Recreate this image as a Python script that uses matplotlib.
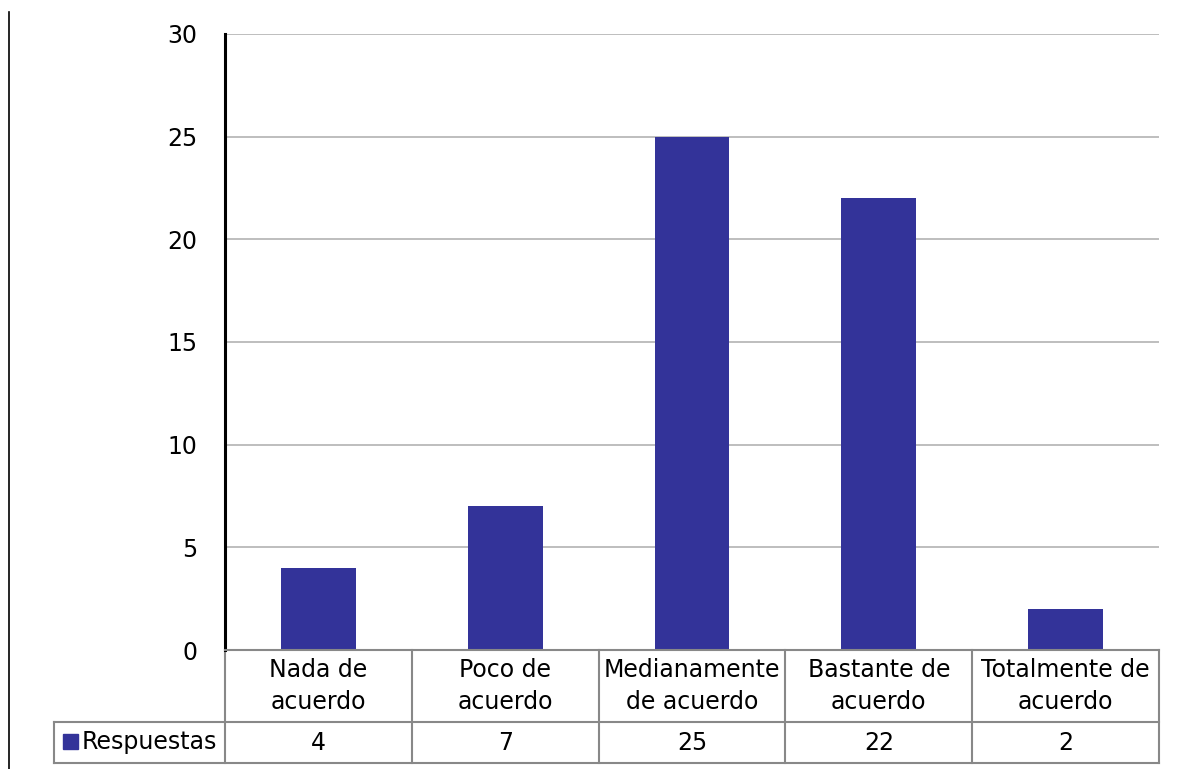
import matplotlib
matplotlib.use("Agg")
import matplotlib.pyplot as plt
from matplotlib.lines import Line2D
from matplotlib.patches import Rectangle
import matplotlib.transforms as mtransforms

categories = ["Nada de\nacuerdo", "Poco de\nacuerdo", "Medianamente\nde acuerdo",
              "Bastante de\nacuerdo", "Totalmente de\nacuerdo"]
values = [4, 7, 25, 22, 2]
series_name = "Respuestas"
yticks = [0, 5, 10, 15, 20, 25, 30]

W, H = 1179, 769
BAR = "#333399"
GRID = "#b3b3b3"
TBL = "#888888"
FS = 17

fig = plt.figure(figsize=(W / 100, H / 100), dpi=100)
plt.rcParams['font.family'] = ['DejaVu Sans']

L, R, T, B = 225, 1159, 34, 650
ax = fig.add_axes([L / W, 1 - B / H, (R - L) / W, (B - T) / H])
x = list(range(len(categories)))
ax.bar(x, values, width=0.4, color=BAR, zorder=3)
ax.set_xlim(-0.5, len(categories) - 0.5)
ax.set_ylim(0, 30)
ax.set_yticks(yticks)
ax.set_yticklabels([str(v) for v in yticks], fontsize=FS)
ax.tick_params(axis='y', length=0, pad=20)
ax.set_xticks([])
ax.yaxis.grid(True, color=GRID, linewidth=1.2, zorder=0)
for s in ["top", "right", "bottom"]:
    ax.spines[s].set_visible(False)
ax.spines["left"].set_linewidth(2.2)
ax.spines["left"].set_color("black")

# data table under the axis
trans = mtransforms.blended_transform_factory(ax.transData, ax.transAxes)
h_px = B - T
y_hdr = -(722 - B) / h_px
y_bot = -(763 - B) / h_px
lw = 1.5
n = len(categories)
# horizontal lines
ax.add_line(Line2D([-0.5, n - 0.5], [0, 0], transform=trans, color=TBL, lw=lw, clip_on=False, zorder=4))
for yy in (y_hdr, y_bot):
    ax.add_line(Line2D([54 / W, R / W], [1 - (B + (-yy) * h_px) / H] * 2, transform=fig.transFigure,
                       color=TBL, lw=lw, clip_on=False))
# vertical lines
for i in range(n + 1):
    ax.add_line(Line2D([i - 0.5, i - 0.5], [0, y_bot], transform=trans, color=TBL, lw=lw, clip_on=False))
ax.add_line(Line2D([54 / W, 54 / W], [1 - 722 / H, 1 - 763 / H], transform=fig.transFigure,
                   color=TBL, lw=lw, clip_on=False))
# texts
for i, (c, v) in enumerate(zip(categories, values)):
    ax.text(i, y_hdr / 2, c, transform=trans, ha="center", va="center", fontsize=FS,
            linespacing=1.4, clip_on=False)
    ax.text(i, (y_hdr + y_bot) / 2, str(v), transform=trans, ha="center", va="center",
            fontsize=FS, clip_on=False)
# legend key
fig.patches.append(Rectangle((63 / W, 1 - 749 / H), 15 / W, 15 / H, transform=fig.transFigure,
                             color=BAR, figure=fig))
fig.text(82 / W, 1 - 742.5 / H, series_name, ha="left", va="center", fontsize=FS)

# left border line
fig.add_artist(Line2D([9.5 / W, 9.5 / W], [1 - 12 / H, 0], transform=fig.transFigure,
                      color="black", lw=1.2))

fig.savefig("out.png", dpi=100)
